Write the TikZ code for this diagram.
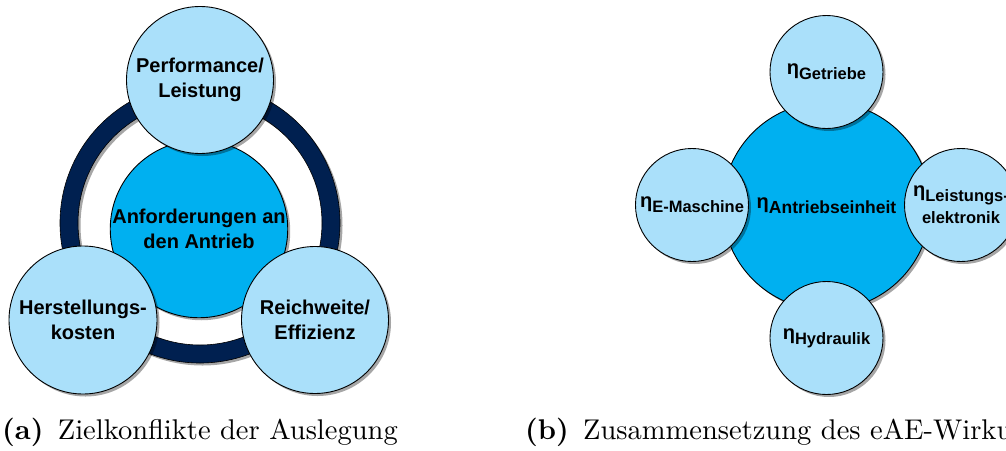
\documentclass[tikz,border=0pt]{standalone}
\usepackage{fontspec}
\newfontfamily\arialfont{Liberation Sans}
\newfontfamily\capfont{lmroman10-regular.otf}[BoldFont=lmroman10-bold.otf]
\usetikzlibrary{shadows}

\definecolor{ringnavy}{RGB}{0,32,80}
\definecolor{corecyan}{RGB}{0,176,240}
\definecolor{petal}{RGB}{170,224,250}

% efficiency symbol with a lowered, smaller index
\newcommand{\etasub}[2][16.5]{{\fontsize{20}{24}\selectfont η}\raisebox{-5pt}{\fontsize{#1}{20}\selectfont #2}}

\begin{document}
\begin{tikzpicture}[x=1pt,y=-1pt,
  every node/.style={align=center, inner sep=0pt},
  label font/.style={font=\arialfont\bfseries\fontsize{20}{25}\selectfont},
  index font/.style={font=\arialfont\bfseries\fontsize{16.5}{27}\selectfont},
  softshadow/.style={drop shadow={shadow xshift=2.5pt,shadow yshift=-2.5pt,fill=black,opacity=.35}},
  corecircle/.style={circle, draw=black, line width=0.9pt, fill=corecyan, softshadow, minimum size=#1},
  petalcircle/.style={circle, draw=black, line width=0.9pt, fill=petal, softshadow, minimum size=#1},
  caption/.style={anchor=base west, font=\capfont\fontsize{28.5}{32}\selectfont}
]
\useasboundingbox (0,0) rectangle (1006,450);
\clip (0,0) rectangle (1006,450);

% ---------- (a) conflicting design goals ----------
\coordinate (ringc) at (200,223);
% ring: shadow, band, edges
\draw[black, opacity=.35, line width=18pt] ([shift={(2.5,2.5)}]ringc) circle[radius=131];
\draw[ringnavy, line width=18pt] (ringc) circle[radius=131];
\draw[black, line width=0.6pt] (ringc) circle[radius=140] (ringc) circle[radius=122];

\node[corecircle=174pt, label font] (req) at (199,229) {Anforderungen an\\den Antrieb};
\node[petalcircle=147pt, label font] (perf) at (200,80) {Performance/\\Leistung};
\node[petalcircle=148pt, label font] (cost) at (83,320) {Herstellungs-\\kosten};
\node[petalcircle=147pt, label font] (range) at (315,320) {Reichweite/\\Effizienz};

\node[caption] (capa) at (2,439) {\textbf{(a)}\hspace{0.5em}Zielkonflikte der Auslegung};

% ---------- (b) composition of the drive efficiency ----------
\node[corecircle=208pt, label font] (drive) at (826.5,206) {\etasub[17.5]{Antriebseinheit}};
\node[petalcircle=113pt, index font] (gear) at (826.5,72) {\etasub{Getriebe}};
\node[petalcircle=113pt, index font] (emach) at (692,205) {\etasub{E-Maschine}};
\node[petalcircle=113pt, index font] (power) at (961,205) {\etasub{Leistungs-}\\elektronik};
\node[petalcircle=113pt, index font] (hyd) at (826.5,338) {\etasub{Hydraulik}};

\node[caption] (capb) at (525,439) {\textbf{(b)}\hspace{0.5em}Zusammensetzung des eAE-Wirkungsgrads};
\end{tikzpicture}
\end{document}
